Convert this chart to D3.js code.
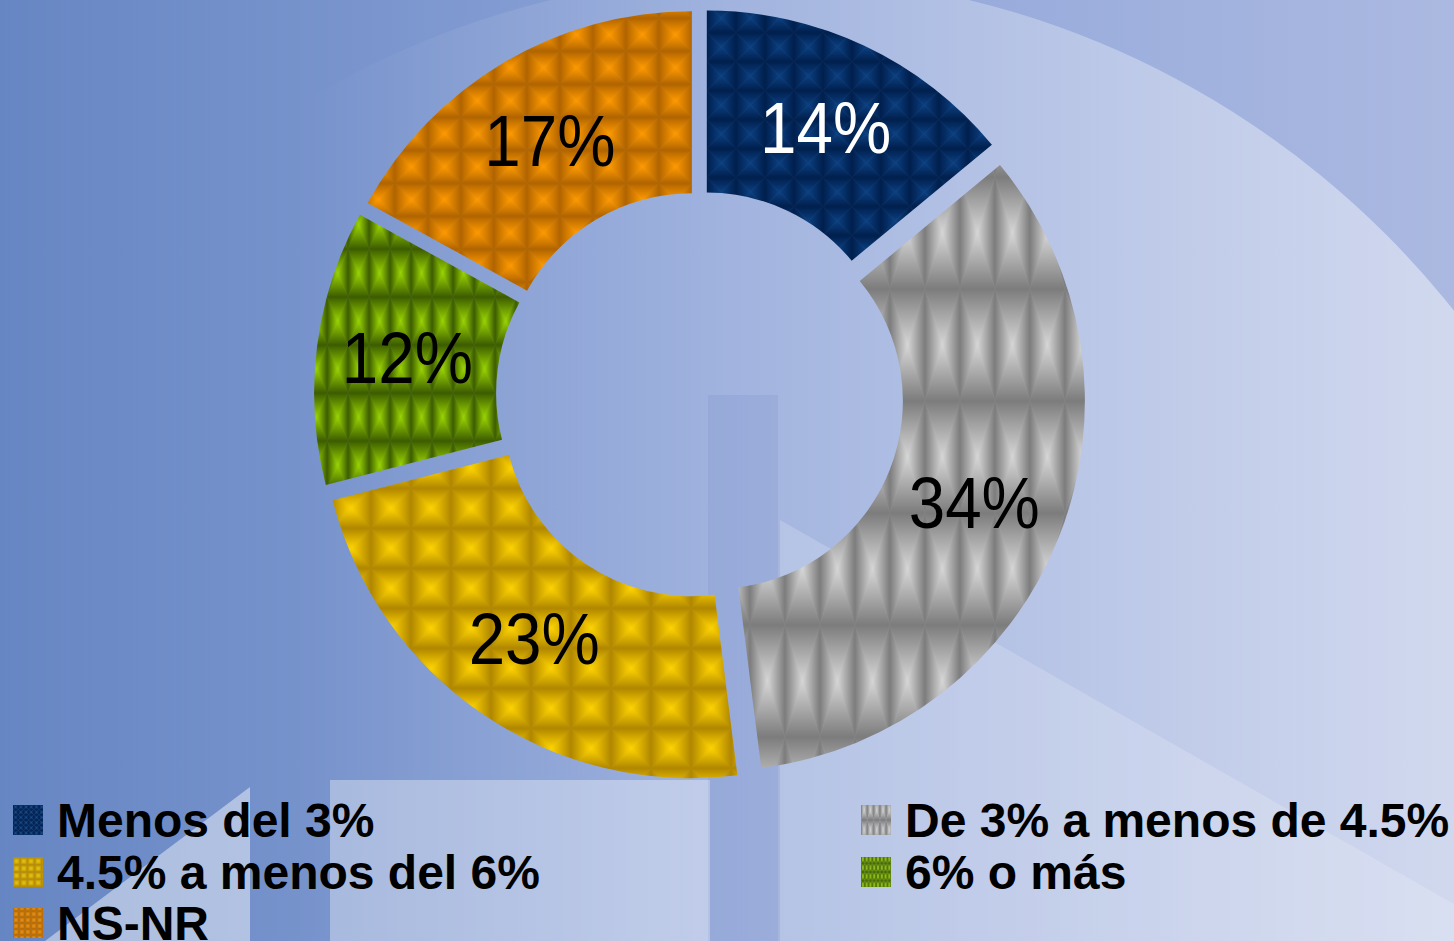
<!DOCTYPE html>
<html>
<meta charset="utf-8">
<style>
  body { margin: 0; padding: 0; overflow: hidden; }
</style>
<body>
<div id="chartContainer"></div>
<script src="https://cdn.jsdelivr.net/npm/d3@7"></script>
<script>
"use strict";

// Data (percent of answers)
var categories = ["Menos del 3%", "De 3% a menos de 4.5%", "4.5% a menos del 6%", "6% o más", "NS-NR"];
var values = [14, 34, 23, 12, 17];
var labels = ["14%", "34%", "23%", "12%", "17%"];

// colours: [cell centre, cell edge] for the pyramid texture
var fills = [["#0b3f80", "#001f4d"], ["#d6d6d6", "#7c7c7c"], ["#ffd400", "#b08600"], ["#9ad400", "#3c5c00"], ["#ff9a00", "#b06400"]];
var cellSizes = [[29, 29], [35, 112], [40, 40], [21, 48], [33, 33]];
var labelColors = ["#ffffff", "#000000", "#000000", "#000000", "#000000"];

var width = 1454, height = 941;
var cx = 700, cy = 395;
var outerR = 370, innerR = 188, explode = 16;

var svg = d3.select("#chartContainer").append("svg")
    .attr("width", width)
    .attr("height", height);

var defs = svg.append("defs");

// ---- background ----
var bg = defs.append("linearGradient").attr("id", "bg").attr("x1", 0).attr("x2", 1).attr("y1", 0).attr("y2", 0);
bg.append("stop").attr("offset", 0).attr("stop-color", "#6686c3");
bg.append("stop").attr("offset", 0.5).attr("stop-color", "#8ea4d8");
bg.append("stop").attr("offset", 1).attr("stop-color", "#abb9e1");

var disk = defs.append("linearGradient").attr("id", "disk")
    .attr("gradientUnits", "userSpaceOnUse")
    .attr("x1", 300).attr("x2", 1454).attr("y1", 0).attr("y2", 0);
disk.append("stop").attr("offset", 0).attr("stop-color", "#ffffff").attr("stop-opacity", 0);
disk.append("stop").attr("offset", 1).attr("stop-color", "#ffffff").attr("stop-opacity", 0.45);

defs.append("clipPath").attr("id", "leftHalf")
  .append("rect").attr("x", 0).attr("y", 0).attr("width", 760).attr("height", height);

svg.append("rect").attr("width", width).attr("height", height).attr("fill", "url(#bg)");

// faint ring of the watermark logo (left part)
svg.append("path")
    .attr("clip-path", "url(#leftHalf)")
    .attr("transform", "translate(900,1000)")
    .attr("d", d3.arc()({ innerRadius: 1112, outerRadius: 1700, startAngle: 0, endAngle: 2 * Math.PI }))
    .attr("fill", "#ffffff").attr("opacity", 0.07);
svg.append("circle")
    .attr("cx", 760).attr("cy", 860).attr("r", 885)
    .attr("fill", "url(#disk)");

// lower parts of the logo
svg.append("polygon")
    .attr("points", "45,941 250,787 250,941")
    .attr("fill", "#ffffff").attr("opacity", 0.45);
svg.append("rect")
    .attr("x", 330).attr("y", 780).attr("width", 380).attr("height", 161)
    .attr("fill", "#ffffff").attr("opacity", 0.35);
svg.append("rect")
    .attr("x", 708).attr("y", 395).attr("width", 70).attr("height", 546)
    .attr("fill", "#3d56a8").attr("opacity", 0.09);
svg.append("polygon")
    .attr("points", "780,520 1454,904 1454,941 780,941")
    .attr("fill", "#ffffff").attr("opacity", 0.18);

// ---- pyramid texture patterns ----
function addPattern(id, i, scale) {
  var w = cellSizes[i][0], h = cellSizes[i][1];
  var p = defs.append("pattern")
      .attr("id", id)
      .attr("patternUnits", "userSpaceOnUse")
      .attr("width", w).attr("height", h);
  if (scale) p.attr("patternTransform", "scale(" + scale + ")");
  var sides = [
    { pts: [[0, 0], [w, 0], [w / 2, h / 2]], g: [0, 0, 0, 1] },
    { pts: [[0, h], [w, h], [w / 2, h / 2]], g: [0, 1, 0, 0] },
    { pts: [[0, 0], [0, h], [w / 2, h / 2]], g: [0, 0, 1, 0] },
    { pts: [[w, 0], [w, h], [w / 2, h / 2]], g: [1, 0, 0, 0] }
  ];
  sides.forEach(function (s, k) {
    var gid = id + "_g" + k;
    var g = defs.append("linearGradient").attr("id", gid)
        .attr("x1", s.g[0]).attr("y1", s.g[1]).attr("x2", s.g[2]).attr("y2", s.g[3]);
    g.append("stop").attr("offset", 0).attr("stop-color", fills[i][1]);
    g.append("stop").attr("offset", 1).attr("stop-color", fills[i][0]);
    p.append("polygon")
        .attr("points", s.pts.map(function (q) { return q.join(","); }).join(" "))
        .attr("fill", "url(#" + gid + ")")
        .attr("stroke", "url(#" + gid + ")")
        .attr("stroke-width", 0.5);
  });
}
values.forEach(function (v, i) {
  addPattern("pat" + i, i);
  addPattern("leg" + i, i, 0.18);
});

// ---- doughnut ----
var pie = d3.pie().sort(null).value(function (d) { return d; });
var arc = d3.arc().innerRadius(innerR).outerRadius(outerR);
var arcs = pie(values);

var chart = svg.append("g").attr("transform", "translate(" + cx + "," + cy + ")");

function shift(d) {
  var a = (d.startAngle + d.endAngle) / 2;
  return [explode * Math.sin(a), -explode * Math.cos(a)];
}

var slices = chart.selectAll(".slice")
    .data(arcs)
    .enter()
    .append("g")
    .attr("class", "slice")
    .attr("transform", function (d) { var s = shift(d); return "translate(" + s[0] + "," + s[1] + ")"; });

slices.append("path")
    .attr("d", arc)
    .attr("fill", function (d, i) { return "url(#pat" + i + ")"; });

// labels are a little condensed in the original
slices.append("text")
    .attr("transform", function (d) { return "translate(" + arc.centroid(d) + ") scale(0.91,1)"; })
    .attr("text-anchor", "middle")
    .attr("dominant-baseline", "central")
    .style("font-family", "'Liberation Sans', Arial, sans-serif")
    .style("font-size", "72px")
    .style("fill", function (d, i) { return labelColors[i]; })
    .text(function (d, i) { return labels[i]; });

// ---- legend ----
var legendCols = [13, 861];
var legendRows = [820, 872, 923];
var legendOrder = [[0, 0, 0], [1, 1, 0], [2, 0, 1], [3, 1, 1], [4, 0, 2]];

var legend = svg.selectAll(".legend")
    .data(legendOrder)
    .enter()
    .append("g")
    .attr("class", "legend")
    .attr("transform", function (d) { return "translate(" + legendCols[d[1]] + "," + legendRows[d[2]] + ")"; });

legend.append("rect")
    .attr("x", 0).attr("y", -15)
    .attr("width", 30).attr("height", 30)
    .attr("fill", function (d) { return "url(#leg" + d[0] + ")"; });

legend.append("text")
    .attr("x", 44)
    .attr("y", 17)
    .style("font-family", "'Liberation Sans', Arial, sans-serif")
    .style("font-weight", "bold")
    .style("font-size", "48px")
    .style("fill", "#000000")
    .text(function (d) { return categories[d[0]]; });
</script>
</body>
</html>
